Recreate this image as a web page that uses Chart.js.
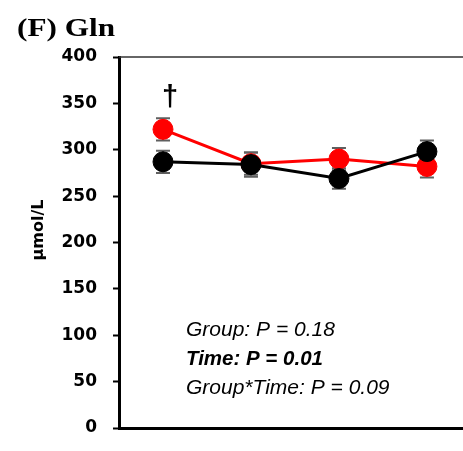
<!DOCTYPE html>
<html>
<head>
<meta charset="utf-8">
<script src="https://cdn.jsdelivr.net/npm/chart.js@4/dist/chart.umd.min.js"></script>
<style>
  html, body { margin: 0; padding: 0; background: #fff; overflow: hidden; }
  #wrap { width: 463px; height: 451px; }
</style>
</head>
<body>
<div id="wrap"><canvas id="chart" width="463" height="451"></canvas></div>
<script>
// Plasma glutamine (µmol/L) at four time points, two groups (mean ± SEM)
const timePoints = [1, 2, 3, 4];
const blackMeans = [287, 284, 269, 298];
const blackSEM   = [12, 13, 11, 12];
const redMeans   = [322, 285, 290, 282];
const redSEM     = [12, 12, 12, 12];

const yMin = 0, yMax = 400, yStep = 50;
const panelTitle = '(F) Gln';
const yAxisTitle = 'μmol/L';
const daggerMark = { point: 0, symbol: '†' };   // marks red group at first time point
const statsLines = [
  { text: 'Group: P = 0.18', bold: false },
  { text: 'Time: P = 0.01', bold: true },
  { text: 'Group*Time: P = 0.09', bold: false }
];

const series = [
  { label: 'Group B', means: blackMeans, sem: blackSEM, color: '#000000' },
  { label: 'Group A', means: redMeans,   sem: redSEM,   color: '#ff0000' }
];

// Error bars drawn beneath the markers
const errorBars = {
  id: 'errorBars',
  beforeDatasetsDraw(chart) {
    const { ctx, scales: { x, y } } = chart;
    ctx.save();
    ctx.strokeStyle = '#5f5f5f';
    ctx.lineWidth = 2;
    series.forEach(s => {
      timePoints.forEach((t, i) => {
        const px = x.getPixelForValue(t);
        const top = y.getPixelForValue(s.means[i] + s.sem[i]);
        const bot = y.getPixelForValue(s.means[i] - s.sem[i]);
        ctx.beginPath();
        ctx.moveTo(px, top); ctx.lineTo(px, bot);
        ctx.moveTo(px - 7, top); ctx.lineTo(px + 7, top);
        ctx.moveTo(px - 7, bot); ctx.lineTo(px + 7, bot);
        ctx.stroke();
      });
    });
    ctx.restore();
  }
};

// Panel title, axis title, frame top line, significance mark and statistics
const decorations = {
  id: 'decorations',
  afterDraw(chart) {
    const { ctx, chartArea: a, scales: { x, y } } = chart;
    ctx.save();

    // thin top frame line
    ctx.strokeStyle = '#333';
    ctx.lineWidth = 1.5;
    ctx.beginPath();
    ctx.moveTo(a.left, a.top);
    ctx.lineTo(a.right, a.top);
    ctx.stroke();

    ctx.fillStyle = '#000';

    // panel title (wide serif bold)
    ctx.font = 'bold 26px "Liberation Serif"';
    ctx.textBaseline = 'alphabetic';
    ctx.textAlign = 'left';
    const tw = ctx.measureText(panelTitle).width;
    ctx.save();
    ctx.translate(17, 36);
    ctx.scale(98 / tw, 1);
    ctx.fillText(panelTitle, 0, 0);
    ctx.restore();

    // rotated y-axis title
    ctx.save();
    ctx.font = 'bold 16px "DejaVu Sans"';
    ctx.textAlign = 'center';
    ctx.textBaseline = 'alphabetic';
    ctx.translate(43, 230);
    ctx.rotate(-Math.PI / 2);
    ctx.fillText(yAxisTitle, 0, 0);
    ctx.restore();

    // dagger above the red point
    const red = series[1];
    const dp = daggerMark.point;
    ctx.font = 'bold 29px "Liberation Sans"';
    ctx.textAlign = 'center';
    ctx.fillText(daggerMark.symbol,
      x.getPixelForValue(timePoints[dp]) + 7,
      y.getPixelForValue(red.means[dp] + red.sem[dp]) - 12);

    // statistics block
    ctx.textAlign = 'left';
    statsLines.forEach((ln, i) => {
      ctx.font = (ln.bold ? 'italic bold 20.5px' : 'italic 21px') + ' "Liberation Sans"';
      ctx.fillText(ln.text, a.left + 67, 336 + i * 29);
    });

    ctx.restore();
  }
};

new Chart(document.getElementById('chart'), {
  type: 'line',
  data: {
    datasets: series.map((s, k) => ({
      label: s.label,
      data: timePoints.map((t, i) => ({ x: t, y: s.means[i] })),
      borderColor: s.color,
      backgroundColor: s.color,
      pointBackgroundColor: s.color,
      pointBorderColor: s.color,
      pointRadius: 10,
      pointBorderWidth: 1,
      borderWidth: 3,
      tension: 0,
      clip: false,
      order: k
    }))
  },
  options: {
    responsive: false,
    animation: false,
    devicePixelRatio: 1,
    layout: { autoPadding: false, padding: { top: 57, bottom: 23, left: 0, right: 0 } },
    plugins: { legend: { display: false }, tooltip: { enabled: false } },
    scales: {
      x: {
        type: 'linear',
        min: 0.5,
        max: 4.41,
        ticks: { display: false },
        grid: { display: false, drawTicks: false },
        border: { display: true, color: '#000', width: 3 },
        afterFit(scale) { scale.height = 0; }
      },
      y: {
        min: yMin,
        max: yMax,
        ticks: {
          stepSize: yStep,
          padding: 16,
          color: '#000',
          font: { family: '"DejaVu Sans"', weight: 'bold', size: 17 }
        },
        grid: {
          display: true,
          drawOnChartArea: false,
          drawTicks: true,
          tickLength: 6,
          tickWidth: 2,
          tickColor: '#000'
        },
        border: { display: true, color: '#000', width: 3 },
        afterFit(scale) {
          scale.width = 119;
          scale.paddingTop = 0;
          scale.paddingBottom = 0;
        }
      }
    }
  },
  plugins: [errorBars, decorations]
});
</script>
</body>
</html>
